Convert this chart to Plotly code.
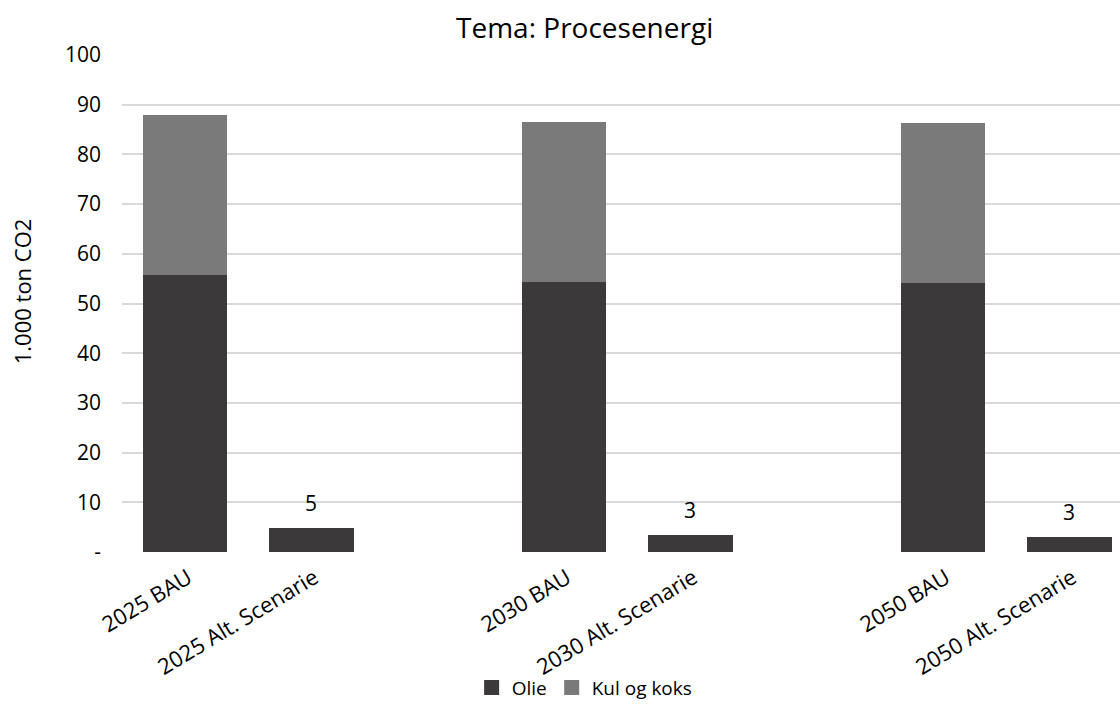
import plotly.graph_objects as go

# Category slots; blank entries act as spacers between the scenario years
categories = ["2025 BAU", "2025 Alt. Scenarie", " ",
              "2030 BAU", "2030 Alt. Scenarie", "  ",
              "2050 BAU", "2050 Alt. Scenarie"]

olie = [55.8, 4.76, None, 54.4, 3.42, None, 54.1, 2.95]
kul_og_koks = [32.2, 0, None, 32.2, 0, None, 32.3, 0]

series = [("Olie", olie, "#3b393a"), ("Kul og koks", kul_og_koks, "#7a7a7a")]

# Value labels shown only for the alternative scenarios
labelled = ["2025 Alt. Scenarie", "2030 Alt. Scenarie", "2050 Alt. Scenarie"]

y_ticks = [0, 10, 20, 30, 40, 50, 60, 70, 80, 90, 100]
y_ticktext = ["-"] + [str(v) for v in y_ticks[1:]]

FONT = "Open Sans"
TEXT_COLOR = "#000000"
TICK_SIZE = 21

fig = go.Figure()
for name, values, color in series:
    fig.add_trace(go.Bar(name=name, x=categories, y=values, width=0.67,
                         marker=dict(color=color, line=dict(width=0)),
                         showlegend=False))
# Legend entries with larger square keys
for name, values, color in series:
    fig.add_trace(go.Scatter(name=name, x=[None], y=[None], mode="markers",
                             marker=dict(symbol="square", size=15, color=color),
                             showlegend=True))

for cat in labelled:
    i = categories.index(cat)
    total = (olie[i] or 0) + (kul_og_koks[i] or 0)
    fig.add_annotation(x=cat, y=total, text=f"{total:.0f}", showarrow=False,
                       yanchor="bottom", yshift=9,
                       font=dict(family=FONT, size=TICK_SIZE, color=TEXT_COLOR))

# Vertical axis title
fig.add_annotation(text="1.000 ton CO2", textangle=-90, showarrow=False,
                   xref="paper", yref="paper", x=-0.1, y=0.525,
                   xanchor="center", yanchor="middle",
                   font=dict(family=FONT, size=22, color=TEXT_COLOR))

fig.update_layout(
    barmode="stack",
    width=1120, height=706,
    margin=dict(l=122, r=0, t=55, b=154, autoexpand=False),
    paper_bgcolor="white", plot_bgcolor="white",
    font=dict(family=FONT, size=TICK_SIZE, color=TEXT_COLOR),
    title=dict(text="Tema: Procesenergi", x=0.522, xref="container",
               xanchor="center", y=0.96, yref="container", yanchor="middle",
               font=dict(family=FONT, size=28, color=TEXT_COLOR)),
    showlegend=True,
    legend=dict(orientation="h", x=0.522, xref="container", xanchor="center",
                y=0.026, yref="container", yanchor="middle",
                traceorder="normal", bgcolor="rgba(0,0,0,0)",
                font=dict(family=FONT, size=19, color=TEXT_COLOR),
                itemwidth=30, tracegroupgap=0),
)

fig.update_xaxes(type="category", categoryorder="array", categoryarray=categories,
                 range=[-0.5, 7.40], tickangle=-31, showgrid=False,
                 showline=False, ticks="", zeroline=False, automargin=False,
                 ticklabelstandoff=8, ticklabelshift=3,
                 tickfont=dict(family=FONT, size=22, color=TEXT_COLOR))
fig.update_yaxes(range=[0, 100], tickvals=y_ticks, ticktext=y_ticktext,
                 showgrid=True, gridcolor="#d9d9d9", gridwidth=2,
                 zeroline=False, showline=False, ticks="", automargin=False,
                 ticklabelstandoff=20,
                 tickfont=dict(family=FONT, size=TICK_SIZE, color=TEXT_COLOR))

fig.write_html("out.html")
